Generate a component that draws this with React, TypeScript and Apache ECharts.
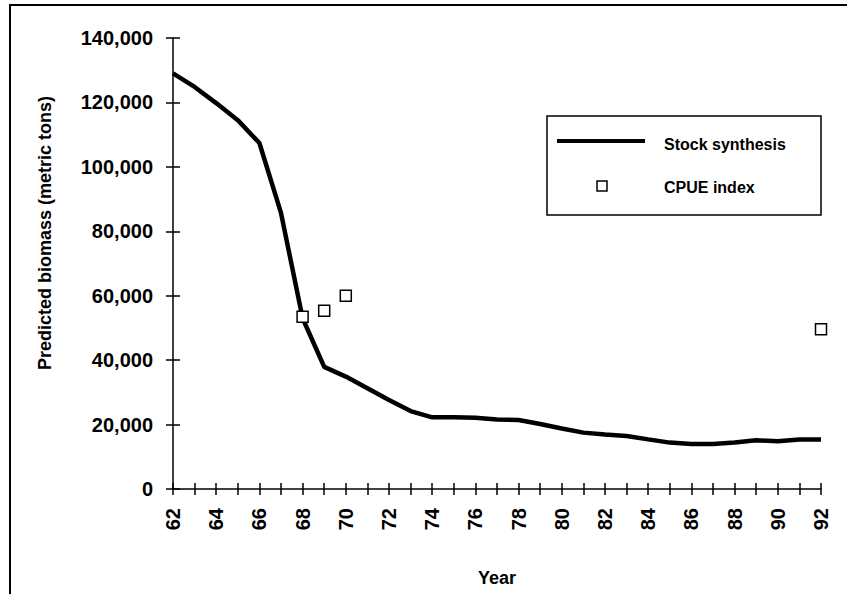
import React, { useEffect, useRef } from "react";
import * as echarts from "echarts";

const years: string[] = [
  "62", "63", "64", "65", "66", "67", "68", "69", "70", "71", "72", "73", "74", "75", "76", "77",
  "78", "79", "80", "81", "82", "83", "84", "85", "86", "87", "88", "89", "90", "91", "92",
];
const stockSynthesis: number[] = [
  129000, 124800, 119800, 114500, 107400, 85700, 53000, 37900, 34900, 31300, 27600, 24200, 22250,
  22250, 22100, 21600, 21400, 20200, 18800, 17500, 16900, 16450, 15400, 14400, 14000, 14000, 14400,
  15100, 14800, 15400, 15400,
];
const cpueYears: string[] = ["68", "69", "70", "92"];
const cpueValues: number[] = [53500, 55350, 60000, 49600];
const yTicks = { min: 0, max: 140000, interval: 20000 };

const FONT = "'Liberation Sans', Arial, Helvetica, sans-serif";

export default function App() {
  const ref = useRef<HTMLDivElement>(null);
  useEffect(() => {
    if (!ref.current) return;
    const chart = echarts.init(ref.current, null, { renderer: "svg" });
    const fmt = (v: number) => v.toLocaleString("en-US");
    chart.setOption({
      animation: false,
      backgroundColor: "#ffffff",
      grid: { left: 173, right: 26, top: 38, bottom: 105, containLabel: false },
      xAxis: [
        {
          type: "category",
          data: years,
          boundaryGap: false,
          position: "bottom",
          name: "Year",
          nameLocation: "middle",
          nameGap: 80,
          nameTextStyle: { fontFamily: FONT, fontWeight: "bold", fontSize: 18, color: "#000" },
          axisLine: { show: true, onZero: false, lineStyle: { color: "#000", width: 1.5 } },
          axisTick: { show: true, interval: 0, length: 6, lineStyle: { color: "#000", width: 1.5 } },
          axisLabel: {
            show: true,
            interval: 1,
            rotate: 90,
            margin: 19,
            fontFamily: FONT,
            fontWeight: "bold",
            fontSize: 20,
            color: "#000",
          },
          splitLine: { show: false },
        },
        {
          type: "category",
          data: years,
          boundaryGap: false,
          position: "bottom",
          axisLine: { show: false, onZero: false },
          axisTick: { show: true, inside: true, interval: 0, length: 6, lineStyle: { color: "#000", width: 1.5 } },
          axisLabel: { show: false },
          splitLine: { show: false },
        },
      ],
      yAxis: [
        {
          type: "value",
          min: yTicks.min,
          max: yTicks.max,
          interval: yTicks.interval,
          axisLine: { show: true, lineStyle: { color: "#000", width: 1.5 } },
          axisTick: { show: true, length: 7, lineStyle: { color: "#000", width: 1.5 } },
          axisLabel: {
            margin: 20,
            formatter: fmt,
            fontFamily: FONT,
            fontWeight: "bold",
            fontSize: 20,
            color: "#000",
          },
          splitLine: { show: false },
        },
        {
          type: "value",
          min: yTicks.min,
          max: yTicks.max,
          interval: yTicks.interval,
          position: "left",
          axisLine: { show: false },
          axisTick: { show: true, inside: true, length: 7, lineStyle: { color: "#000", width: 1.5 } },
          axisLabel: { show: false },
          splitLine: { show: false },
        },
      ],
      series: [
        {
          name: "Stock synthesis",
          type: "line",
          data: stockSynthesis,
          showSymbol: false,
          symbol: "none",
          lineStyle: { color: "#000", width: 4.5 },
          itemStyle: { color: "#000" },
          z: 2,
        },
        {
          name: "CPUE index",
          type: "scatter",
          data: cpueYears.map((y, i) => [y, cpueValues[i]]),
          symbol: "rect",
          symbolSize: 11,
          itemStyle: { color: "#ffffff", borderColor: "#000", borderWidth: 1.5, opacity: 1 },
          z: 3,
        },
      ],
      graphic: [
        {
          type: "rect",
          shape: { x: 10, y: 5, width: 900, height: 700 },
          style: { fill: "none", stroke: "#000", lineWidth: 2 },
          silent: true,
        },
        {
          type: "text",
          x: 45,
          y: 233,
          rotation: Math.PI / 2,
          style: {
            text: "Predicted biomass (metric tons)",
            fontFamily: FONT,
            fontWeight: "bold",
            fontSize: 18,
            fill: "#000",
            align: "center",
            verticalAlign: "middle",
          },
        },
        {
          type: "rect",
          shape: { x: 547, y: 116, width: 274, height: 99 },
          style: { fill: "#fff", stroke: "#000", lineWidth: 1.5 },
          z: 10,
        },
        {
          type: "line",
          shape: { x1: 557, y1: 141, x2: 645, y2: 141 },
          style: { stroke: "#000", lineWidth: 4 },
          z: 11,
        },
        {
          type: "text",
          x: 664,
          y: 144,
          style: {
            text: "Stock synthesis",
            fontFamily: FONT,
            fontWeight: "bold",
            fontSize: 16,
            fill: "#000",
            align: "left",
            verticalAlign: "middle",
          },
          z: 11,
        },
        {
          type: "rect",
          shape: { x: 597, y: 181, width: 10, height: 10 },
          style: { fill: "#fff", stroke: "#000", lineWidth: 1.5 },
          z: 11,
        },
        {
          type: "text",
          x: 664,
          y: 187,
          style: {
            text: "CPUE index",
            fontFamily: FONT,
            fontWeight: "bold",
            fontSize: 16,
            fill: "#000",
            align: "left",
            verticalAlign: "middle",
          },
          z: 11,
        },
      ],
    });
    return () => chart.dispose();
  }, []);
  return (
    <div
      ref={ref}
      style={{ position: "fixed", left: 0, top: 0, width: 847, height: 594 }}
    />
  );
}
